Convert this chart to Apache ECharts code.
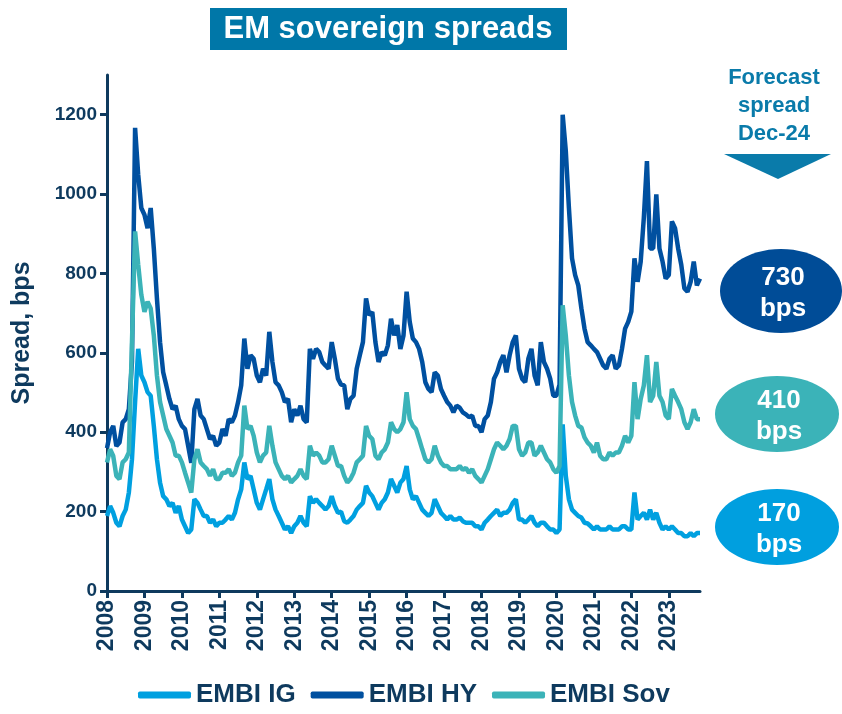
<!DOCTYPE html>
<html>
<head>
<meta charset="utf-8">
<script src="https://cdn.jsdelivr.net/npm/echarts@6/dist/echarts.min.js"></script>
<style>
  html, body { margin: 0; padding: 0; background: #fff; }
  #chart { width: 842px; height: 714px; }
</style>
</head>
<body>
<div id="chart"></div>
<script>
// monthly values, Jan 2008 .. Nov 2023 (bps)
const startYear = 2008;
const years = [2008, 2009, 2010, 2011, 2012, 2013, 2014, 2015, 2016, 2017, 2018, 2019, 2020, 2021, 2022, 2023];
const yTicks = [0, 200, 400, 600, 800, 1000, 1200];

const embiHY = [
  360, 400, 416, 365, 374, 425, 433, 458, 577, 1167, 1049, 965,
  948, 914, 965, 863, 737, 627, 551, 518, 484, 458, 467, 433,
  416, 408, 366, 323, 458, 484, 442, 433, 408, 383, 391, 366,
  374, 408, 391, 433, 425, 442, 476, 518, 636, 560, 594, 585,
  543, 526, 560, 543, 653, 577, 526, 518, 501, 476, 484, 425,
  458, 442, 467, 433, 425, 610, 585, 610, 602, 577, 568, 560,
  627, 585, 535, 520, 518, 458, 484, 492, 560, 594, 627, 737,
  695, 703, 627, 577, 602, 594, 619, 686, 644, 670, 610, 644,
  754, 678, 636, 627, 610, 577, 526, 509, 501, 551, 543, 509,
  492, 476, 467, 450, 467, 462, 450, 445, 438, 442, 416, 416,
  400, 433, 442, 476, 535, 551, 577, 594, 551, 594, 627, 644,
  560, 535, 526, 585, 610, 543, 518, 627, 577, 560, 535, 492,
  492, 520, 1200, 1109, 965, 838, 796, 770, 712, 661, 627, 619,
  610, 602, 585, 568, 560, 585, 594, 560, 568, 610, 661, 678,
  704, 838, 779, 830, 940, 1083, 863, 863, 999, 863, 830, 787,
  796, 931, 914, 863, 822, 762, 754, 779, 830, 770, 787
];

const embiSov = [
  324, 357, 340, 290, 282, 324, 332, 349, 627, 906, 822, 746,
  703, 729, 712, 644, 543, 476, 442, 408, 391, 374, 341, 341,
  324, 298, 273, 248, 332, 357, 324, 315, 307, 290, 307, 282,
  282, 298, 298, 307, 290, 298, 324, 341, 467, 408, 416, 391,
  349, 324, 341, 349, 416, 366, 324, 307, 290, 282, 290, 273,
  282, 290, 307, 290, 282, 366, 341, 349, 341, 324, 324, 332,
  366, 341, 315, 315, 290, 273, 282, 298, 324, 332, 341, 416,
  391, 383, 341, 332, 349, 357, 374, 425, 408, 400, 408, 425,
  501, 433, 416, 408, 383, 357, 332, 324, 332, 366, 341, 324,
  315, 315, 307, 307, 307, 315, 305, 310, 298, 307, 290, 282,
  273, 290, 307, 332, 357, 374, 366, 357, 366, 383, 416, 416,
  357, 341, 349, 374, 374, 341, 349, 366, 349, 332, 324, 307,
  298, 315, 720, 644, 543, 476, 442, 416, 412, 387, 374, 366,
  349, 374, 341, 332, 332, 349, 341, 349, 349, 366, 391, 374,
  391, 526, 433, 484, 518, 594, 476, 492, 577, 492, 476, 442,
  433, 509, 492, 476, 458, 425, 408, 425, 458, 433, 433
];

const embiIG = [
  189, 214, 197, 172, 163, 189, 205, 248, 332, 476, 610, 543,
  526, 501, 492, 416, 332, 273, 239, 231, 214, 222, 197, 214,
  180, 163, 146, 155, 231, 222, 205, 189, 189, 172, 180, 163,
  172, 172, 180, 189, 180, 197, 231, 256, 324, 282, 290, 256,
  222, 205, 231, 256, 282, 231, 205, 189, 172, 155, 163, 146,
  163, 172, 189, 172, 163, 239, 222, 231, 222, 214, 205, 214,
  239, 214, 197, 200, 176, 172, 180, 189, 205, 214, 222, 265,
  248, 239, 222, 205, 222, 231, 248, 282, 265, 248, 273, 282,
  315, 256, 231, 239, 222, 205, 197, 189, 197, 231, 214, 197,
  189, 180, 189, 180, 180, 185, 176, 172, 172, 172, 163, 163,
  155, 172, 180, 189, 197, 205, 189, 197, 197, 205, 222, 231,
  180, 180, 172, 180, 189, 172, 163, 172, 172, 163, 155, 155,
  146, 155, 420, 290, 231, 205, 197, 189, 185, 172, 170, 163,
  155, 163, 155, 155, 155, 163, 155, 155, 155, 163, 163, 155,
  155, 248, 180, 189, 197, 180, 205, 180, 197, 172, 155, 163,
  155, 163, 155, 146, 146, 138, 138, 146, 138, 146, 146
];

const forecasts = ['730', '410', '170'];

const navy = '#0E3A5E';
const cIG = '#00A0E0';
const cHY = '#0050A0';
const cSov = '#3BB3B8';
const font = "'Liberation Sans', Arial, sans-serif";

function toPairs(arr) {
  return arr.map((v, i) => [startYear + i / 12, v]);
}

const chart = echarts.init(document.getElementById('chart'));

const option = {
  animation: false,
  textStyle: { fontFamily: font },
  grid: { left: 107, right: 142, top: 75, bottom: 123 },
  legend: {
    left: 133,
    top: 677,
    icon: 'roundRect',
    itemWidth: 53,
    itemHeight: 7,
    itemGap: 15,
    textStyle: { color: navy, fontSize: 26, fontWeight: 'bold', fontFamily: font },
    data: ['EMBI IG', 'EMBI HY', 'EMBI Sov']
  },
  xAxis: {
    type: 'value',
    min: startYear,
    max: startYear + (embiHY.length - 1) / 12,
    axisLine: { lineStyle: { color: navy, width: 3 } },
    axisTick: { show: true, length: 7, lineStyle: { color: navy, width: 3 }, customValues: years },
    axisLabel: {
      customValues: years,
      rotate: 90,
      margin: 9,
      color: navy,
      fontSize: 23,
      fontWeight: 'bold',
      fontFamily: font,
      formatter: v => String(Math.round(v))
    },
    splitLine: { show: false }
  },
  yAxis: {
    type: 'value',
    min: 0,
    max: 1300,
    name: 'Spread, bps',
    nameLocation: 'middle',
    nameGap: 72,
    nameTextStyle: { color: navy, fontSize: 25, fontWeight: 'bold', fontFamily: font },
    axisLine: { show: true, lineStyle: { color: navy, width: 3 } },
    axisTick: { show: true, length: 7, lineStyle: { color: navy, width: 3 }, customValues: yTicks },
    axisLabel: {
      customValues: yTicks,
      margin: 10,
      color: navy,
      fontSize: 19,
      fontWeight: 'bold',
      fontFamily: font,
      formatter: v => String(v)
    },
    splitLine: { show: false }
  },
  series: [
    {
      name: 'EMBI IG',
      type: 'line',
      showSymbol: false,
      symbol: 'none',
      color: cIG,
      lineStyle: { width: 4.5, color: cIG },
      data: toPairs(embiIG)
    },
    {
      name: 'EMBI HY',
      type: 'line',
      showSymbol: false,
      symbol: 'none',
      color: cHY,
      lineStyle: { width: 4.5, color: cHY },
      data: toPairs(embiHY)
    },
    {
      name: 'EMBI Sov',
      type: 'line',
      showSymbol: false,
      symbol: 'none',
      color: cSov,
      lineStyle: { width: 4.5, color: cSov },
      data: toPairs(embiSov)
    }
  ],
  graphic: [
    // title box
    {
      type: 'rect',
      shape: { x: 210, y: 8, width: 357, height: 42 },
      style: { fill: '#0077A8' }
    },
    {
      type: 'text',
      x: 388, y: 29,
      style: {
        text: 'EM sovereign spreads',
        fill: '#fff',
        font: 'bold 31px ' + font,
        align: 'center',
        verticalAlign: 'middle'
      }
    },
    // forecast header
    {
      type: 'text',
      x: 774, y: 106,
      style: {
        text: 'Forecast\nspread\nDec-24',
        fill: '#0A7BAA',
        font: 'bold 22px ' + font,
        lineHeight: 28,
        align: 'center',
        verticalAlign: 'middle'
      }
    },
    {
      type: 'polygon',
      shape: { points: [[724, 154], [831, 154], [778, 179]] },
      style: { fill: '#0A7BAA' }
    },
    // forecast bubbles
    {
      type: 'ellipse',
      shape: { cx: 781, cy: 291, rx: 61, ry: 42 },
      style: { fill: '#004C97' }
    },
    {
      type: 'text',
      x: 783, y: 293,
      style: {
        text: forecasts[0] + '\nbps',
        fill: '#fff',
        font: 'bold 26px ' + font,
        lineHeight: 31,
        align: 'center',
        verticalAlign: 'middle'
      }
    },
    {
      type: 'ellipse',
      shape: { cx: 777, cy: 414, rx: 62, ry: 38 },
      style: { fill: cSov }
    },
    {
      type: 'text',
      x: 779, y: 416,
      style: {
        text: forecasts[1] + '\nbps',
        fill: '#fff',
        font: 'bold 26px ' + font,
        lineHeight: 31,
        align: 'center',
        verticalAlign: 'middle'
      }
    },
    {
      type: 'ellipse',
      shape: { cx: 777, cy: 527, rx: 62, ry: 38 },
      style: { fill: '#009FDF' }
    },
    {
      type: 'text',
      x: 779, y: 529,
      style: {
        text: forecasts[2] + '\nbps',
        fill: '#fff',
        font: 'bold 26px ' + font,
        lineHeight: 31,
        align: 'center',
        verticalAlign: 'middle'
      }
    }
  ]
};

chart.setOption(option);
</script>
</body>
</html>
